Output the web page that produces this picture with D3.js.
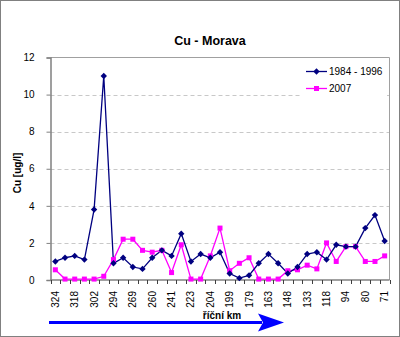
<!DOCTYPE html>
<html><head><meta charset="utf-8">
<script src="https://cdn.jsdelivr.net/npm/d3@7"></script>
<style>body{margin:0;background:#fff}svg{display:block;font-family:Arial,"Liberation Sans",sans-serif}</style>
</head><body><svg id="c" width="400" height="337"></svg>
<script>
const categories = ["324","321","318","310","302","298","294","290","269","265","260","250","241","233","223","213","204","201","199","190","179","171","163","155","148","140","133","125","118","105","94","87","80","75","71"];
const series1984 = [1.0,1.2,1.3,1.1,3.8,11.0,0.9,1.2,0.7,0.6,1.2,1.6,1.3,2.5,1.0,1.4,1.2,1.5,0.35,0.1,0.25,0.9,1.4,0.9,0.35,0.7,1.4,1.5,1.1,1.9,1.8,1.8,2.8,3.5,2.1];
const series2007 = [0.55,0.05,0.05,0.05,0.05,0.2,1.1,2.2,2.2,1.6,1.5,1.6,0.4,1.9,0.05,0.05,1.3,2.8,0.5,0.9,1.2,0.05,0.05,0.05,0.5,0.55,0.8,0.6,2.0,1.0,1.8,1.8,1.0,1.0,1.3];
const yTicks = [0,2,4,6,8,10,12];
const seriesNames = ["1984 - 1996","2007"];

const svg = d3.select("#c");
const L=50.5, R=389.5, T=57.5, B=280;
svg.append("rect").attr("x",0.5).attr("y",0.5).attr("width",399).attr("height",336).attr("fill","#fff").attr("stroke","#808080");

const x = d3.scaleBand().domain(categories).range([L,R]);
const y = d3.scaleLinear().domain([0,12]).range([B,T]);

// grid
svg.append("g").selectAll("line").data(yTicks.filter(d=>d>0&&d<12)).join("line")
  .attr("x1",L).attr("x2",R).attr("y1",d=>Math.round(y(d))+0.5).attr("y2",d=>Math.round(y(d))+0.5)
  .attr("stroke","#c8c8c8").attr("stroke-dasharray","4,3");
// plot border top/right
svg.append("path").attr("d",`M${L},${T}H${R}V${B}`).attr("fill","none").attr("stroke","#a0a0a0").attr("stroke-width",1);

// y axis
const ya = svg.append("g").attr("transform",`translate(${L},0)`).call(d3.axisLeft(y).tickValues(yTicks).tickSize(4).tickPadding(12));
ya.select(".domain").attr("stroke","#808080").attr("stroke-width",1.5);
ya.selectAll(".tick line").attr("stroke","#808080");
ya.selectAll("text").attr("font-size",10).attr("fill","#000").attr("font-family","Arial,Liberation Sans");

// x axis
const xa = svg.append("g").attr("transform",`translate(0,${B})`);
xa.append("line").attr("x1",L).attr("x2",R).attr("y1",0).attr("y2",0).attr("stroke","#808080").attr("stroke-width",1.5);
const bounds = categories.map(c=>x(c)).concat([R]);
xa.selectAll("line.t").data(bounds).join("line").attr("class","t")
  .attr("x1",d=>Math.round(d)+0.5).attr("x2",d=>Math.round(d)+0.5).attr("y1",0).attr("y2",4).attr("stroke","#404040");
xa.selectAll("text").data(categories.filter((c,i)=>i%2===0)).join("text")
  .attr("transform",c=>`translate(${x(c)+x.bandwidth()/2+3.5},11) rotate(-90)`)
  .attr("text-anchor","end").attr("font-size",10).text(c=>c);

// lines
const line = d3.line().x((d,i)=>x(categories[i])+x.bandwidth()/2).y(d=>y(d));
svg.append("path").datum(series2007).attr("d",line).attr("fill","none").attr("stroke","#ff00ff").attr("stroke-width",1.3);
svg.append("path").datum(series1984).attr("d",line).attr("fill","none").attr("stroke","#000080").attr("stroke-width",1.3);
const sq = 5;
svg.append("g").selectAll("rect").data(series2007).join("rect")
  .attr("x",(d,i)=>x(categories[i])+x.bandwidth()/2-sq/2).attr("y",d=>y(d)-sq/2).attr("width",sq).attr("height",sq).attr("fill","#ff00ff");
const diamond = d3.symbol().type(d3.symbolDiamond2).size(26);
svg.append("g").selectAll("path").data(series1984).join("path")
  .attr("transform",(d,i)=>`translate(${x(categories[i])+x.bandwidth()/2},${y(d)})`).attr("d",diamond).attr("fill","#000080");

// legend
const lg = svg.append("g");
lg.append("rect").attr("x",301).attr("y",62).attr("width",86).attr("height",36).attr("fill","#fff");
[0,1].forEach(i=>{
  const yy = 71.5 + i*17;
  lg.append("line").attr("x1",306).attr("x2",327).attr("y1",yy).attr("y2",yy).attr("stroke",i?"#ff00ff":"#000080").attr("stroke-width",1.3);
  if(i) lg.append("rect").attr("x",316.5-sq/2).attr("y",yy-sq/2).attr("width",sq).attr("height",sq).attr("fill","#ff00ff");
  else lg.append("path").attr("transform",`translate(316.5,${yy})`).attr("d",diamond).attr("fill","#000080");
  lg.append("text").attr("x",329).attr("y",yy+3.5).attr("font-size",10).text(seriesNames[i]);
});

// title & labels
svg.append("text").attr("x",210).attr("y",45).attr("text-anchor","middle").attr("font-size",12.5).attr("font-weight","bold").text("Cu - Morava");
svg.append("text").attr("transform","translate(21,173) rotate(-90)").attr("text-anchor","middle").attr("font-size",10).attr("font-weight","bold").text("Cu [ug/l]");
svg.append("text").attr("x",222).attr("y",319).attr("text-anchor","middle").attr("font-size",10).attr("font-weight","bold").text("říční km");

// arrow
svg.append("line").attr("x1",49).attr("x2",262).attr("y1",322.5).attr("y2",322.5).attr("stroke","#0000ff").attr("stroke-width",3);
svg.append("path").attr("d","M258,313.5L284,322.5L258,331.5L263,322.5Z").attr("fill","#0000ff");
</script></body></html>
